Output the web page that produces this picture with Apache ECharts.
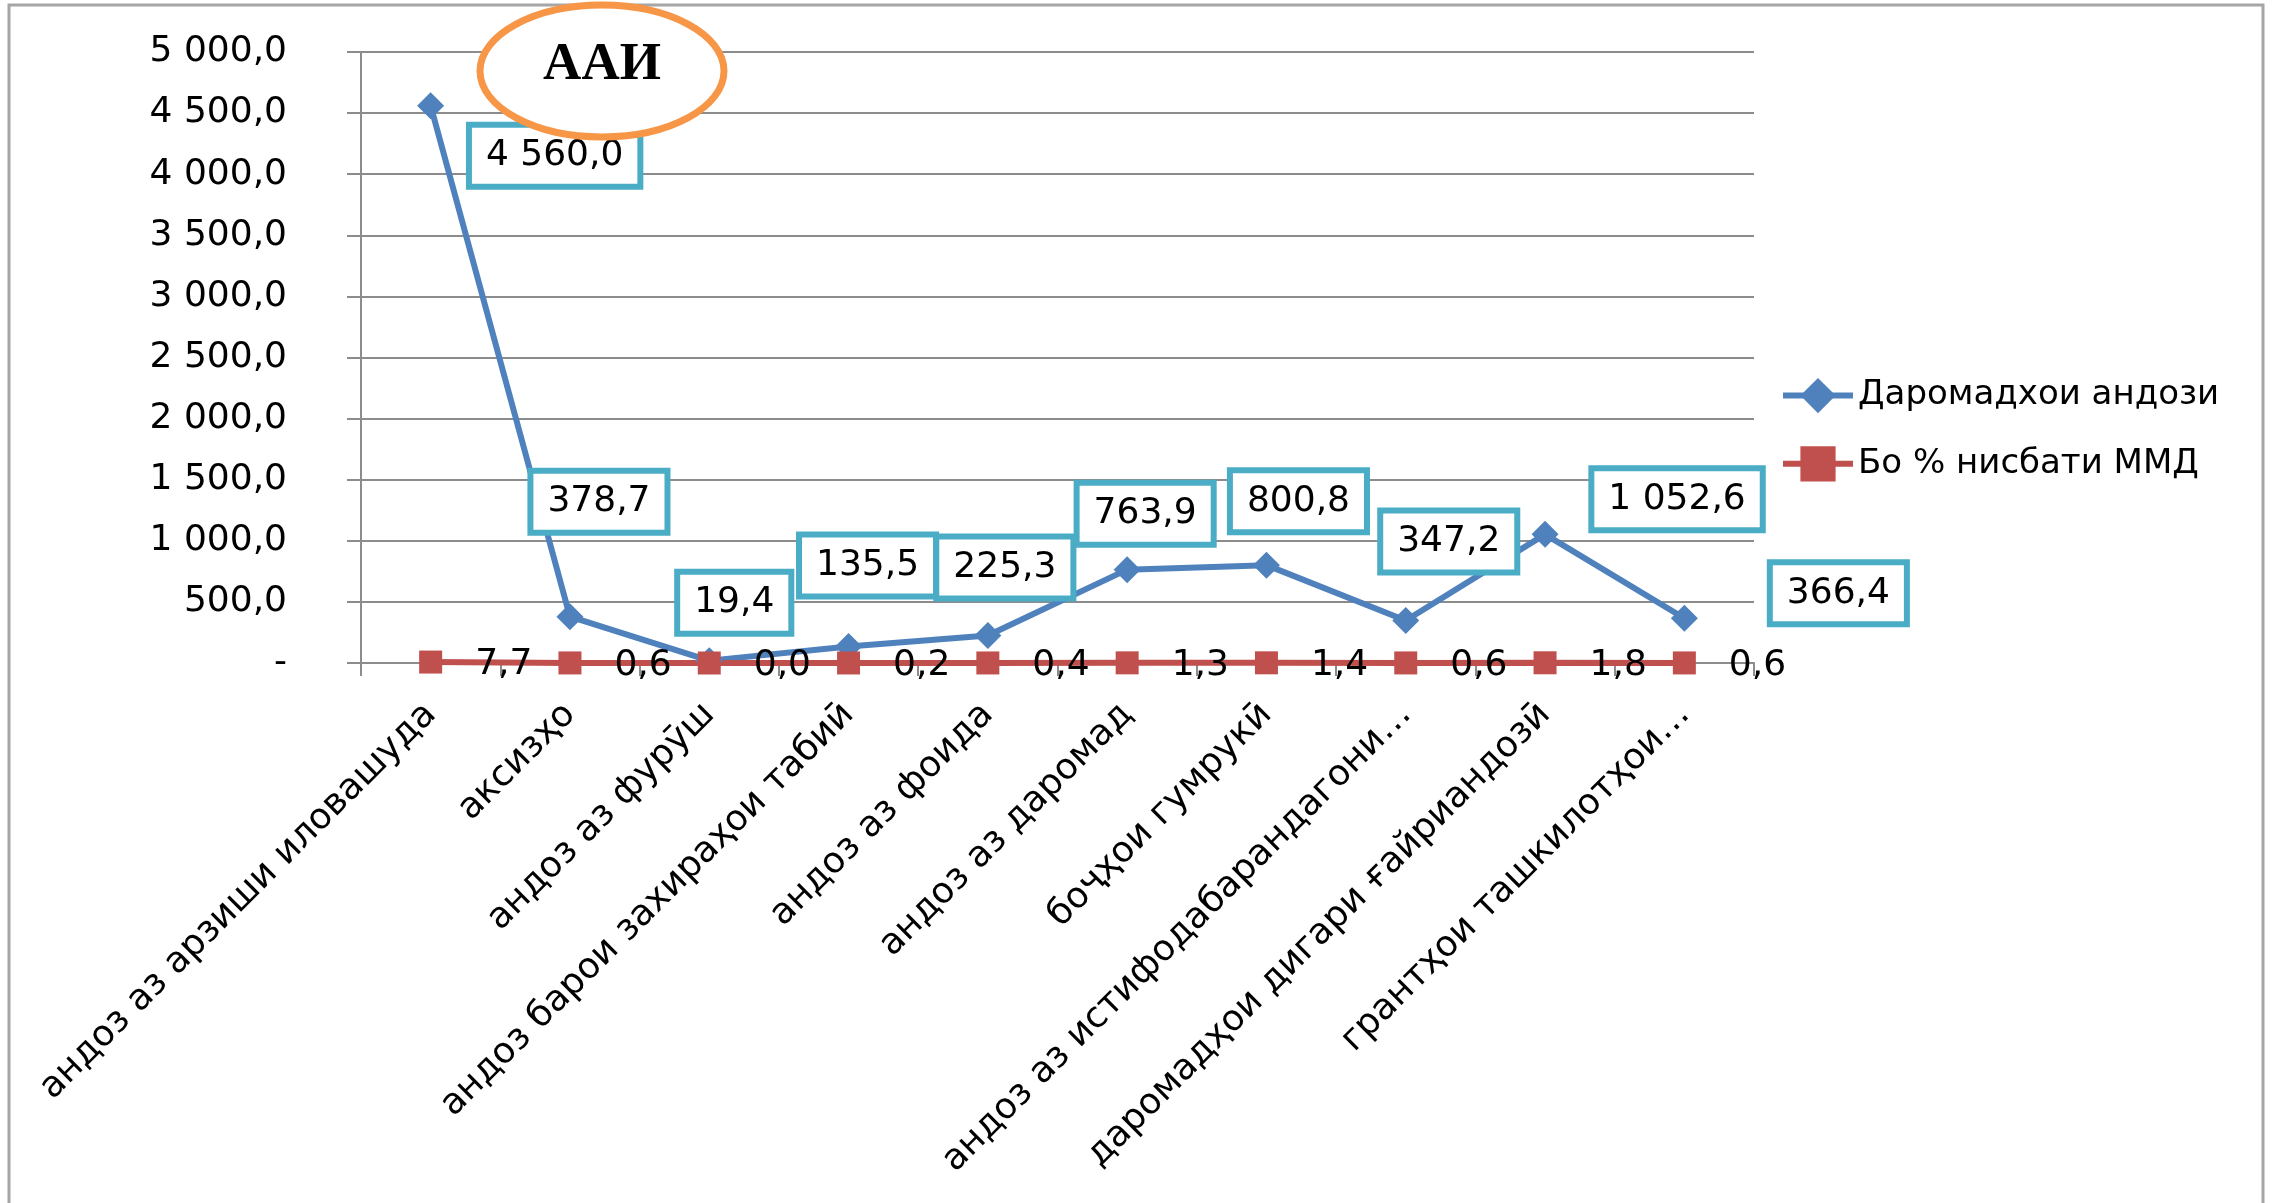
<!DOCTYPE html>
<html>
<head>
<meta charset="utf-8">
<title>ААИ</title>
<script src="https://cdn.jsdelivr.net/npm/echarts@6/dist/echarts.min.js"></script>
<style>
  html, body { margin: 0; padding: 0; background: #fff; }
  #chart { width: 2275px; height: 1203px; }
</style>
</head>
<body>
<div id="chart"></div>
<script>
// категорияҳо
var categories = [
  'андоз аз арзиши иловашуда',
  'аксизҳо',
  'андоз аз фурӯш',
  'андоз барои захираҳои табиӣ',
  'андоз аз фоида',
  'андоз аз даромад',
  'боҷҳои гумрукӣ',
  'андоз аз истифодабарандагони…',
  'даромадҳои дигари ғайриандозӣ',
  'грантҳои ташкилотҳои…'
]
var incomeValues = [4560.0, 378.7, 19.4, 135.5, 225.3, 763.9, 800.8, 347.2, 1052.6, 366.4]
var gdpShareValues = [7.7, 0.6, 0.0, 0.2, 0.4, 1.3, 1.4, 0.6, 1.8, 0.6]
var yTickLabels = ['-', '500,0', '1 000,0', '1 500,0', '2 000,0', '2 500,0', '3 000,0', '3 500,0', '4 000,0', '4 500,0', '5 000,0']

// where the boxed labels sit, relative to their point
var incomeLabelOffsets = [
  [124, 50], [29, -115], [25, -58], [19, -81], [17, -68],
  [18, -56], [32, -64], [43, -79], [132, -35], [154, -25]
]

function fmt(v) {
  var parts = v.toFixed(1).split('.')
  var intPart = parts[0].replace(/\B(?=(\d{3})+(?!\d))/g, ' ')
  return intPart + ',' + parts[1]
}

var font = 'DejaVu Sans'
var gray = '#8c8c8c'

var chart = echarts.init(document.getElementById('chart'))
var option = {
  backgroundColor: '#fff',
  animation: false,
  title: {
    text: 'ААИ',
    left: 602,
    top: 39,
    textAlign: 'center',
    padding: 0,
    z: 300,
    textStyle: {
      fontFamily: 'Liberation Serif',
      fontWeight: 'bold',
      fontSize: 53,
      color: '#000'
    }
  },
  graphic: [
    {
      type: 'rect',
      silent: true,
      z: -10,
      shape: { x: 9, y: 5, width: 2254, height: 1300 },
      style: { fill: 'none', stroke: '#a6a6a6', lineWidth: 3 }
    },
    {
      type: 'ellipse',
      silent: true,
      z: 200,
      shape: { cx: 602, cy: 71, rx: 122, ry: 66 },
      style: { fill: '#fff', stroke: '#F79646', lineWidth: 7 }
    }
  ],
  legend: {
    orient: 'vertical',
    left: 1775,
    top: 373,
    itemWidth: 70,
    itemHeight: 44,
    itemGap: 33,
    lineStyle: { width: 6 },
    textStyle: { fontFamily: font, fontSize: 34, color: '#000', lineHeight: 34 },
    data: ['Даромадхои андози', 'Бо % нисбати ММД']
  },
  grid: {
    left: 361,
    right: 521,
    top: 52,
    bottom: 540
  },
  xAxis: {
    type: 'category',
    data: categories,
    boundaryGap: true,
    axisLine: { lineStyle: { color: gray, width: 2 } },
    axisTick: { show: true, alignWithLabel: false, length: 13, lineStyle: { color: gray, width: 2 } },
    axisLabel: {
      rotate: 45,
      margin: 46,
      interval: 0,
      fontFamily: font,
      fontSize: 36,
      color: '#000'
    }
  },
  yAxis: {
    type: 'value',
    min: 0,
    max: 5000,
    interval: 500,
    axisLine: { show: true, lineStyle: { color: gray, width: 2 } },
    axisTick: { show: true, length: 14, lineStyle: { color: gray, width: 2 } },
    splitLine: { lineStyle: { color: gray, width: 2 } },
    axisLabel: {
      margin: 74,
      fontFamily: font,
      fontSize: 36,
      color: '#000',
      formatter: function (v) {
        return yTickLabels[Math.round(v / 500)]
      }
    }
  },
  series: [
    {
      name: 'Даромадхои андози',
      type: 'line',
      symbol: 'diamond',
      symbolSize: 27,
      itemStyle: { color: '#4F81BD' },
      lineStyle: { color: '#4F81BD', width: 6 },
      label: {
        show: true,
        position: 'inside',
        fontFamily: font,
        fontSize: 36,
        lineHeight: 36,
        color: '#000',
        backgroundColor: '#fff',
        borderColor: '#4BACC6',
        borderWidth: 6,
        padding: [10, 14],
        formatter: function (p) { return fmt(p.value) }
      },
      data: incomeValues.map(function (v, i) {
        return { value: v, label: { offset: incomeLabelOffsets[i] } }
      })
    },
    {
      name: 'Бо % нисбати ММД',
      type: 'line',
      symbol: 'rect',
      symbolSize: 23,
      itemStyle: { color: '#C0504D' },
      lineStyle: { color: '#C0504D', width: 6 },
      label: {
        show: true,
        position: 'right',
        distance: 33,
        offset: [0, 3],
        fontFamily: font,
        fontSize: 36,
        color: '#000',
        formatter: function (p) { return fmt(p.value) }
      },
      data: gdpShareValues
    }
  ]
}
chart.setOption(option)
window.addEventListener('resize', function () {
  chart.resize()
})
</script>
</body>
</html>
